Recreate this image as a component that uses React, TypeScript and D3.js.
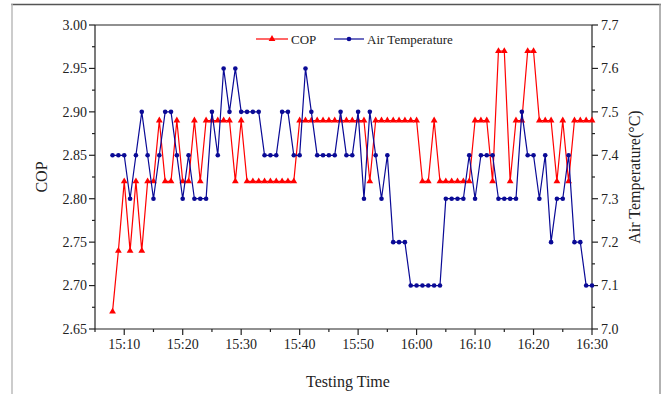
import React from "react";
import * as d3 from "d3";

const TIMES = [
  "15:08","15:09","15:10","15:11","15:12","15:13","15:14","15:15","15:16","15:17",
  "15:18","15:19","15:20","15:21","15:22","15:23","15:24","15:25","15:26","15:27",
  "15:28","15:29","15:30","15:31","15:32","15:33","15:34","15:35","15:36","15:37",
  "15:38","15:39","15:40","15:41","15:42","15:43","15:44","15:45","15:46","15:47",
  "15:48","15:49","15:50","15:51","15:52","15:53","15:54","15:55","15:56","15:57",
  "15:58","15:59","16:00","16:01","16:02","16:03","16:04","16:05","16:06","16:07",
  "16:08","16:09","16:10","16:11","16:12","16:13","16:14","16:15","16:16","16:17",
  "16:18","16:19","16:20","16:21","16:22","16:23","16:24","16:25","16:26","16:27",
  "16:28","16:29","16:30",
];

const COP = [
  2.67, 2.74, 2.82, 2.74, 2.82, 2.74, 2.82, 2.82, 2.89, 2.82,
  2.82, 2.89, 2.82, 2.82, 2.89, 2.82, 2.89, 2.89, 2.89, 2.89,
  2.89, 2.82, 2.89, 2.82, 2.82, 2.82, 2.82, 2.82, 2.82, 2.82,
  2.82, 2.82, 2.89, 2.89, 2.89, 2.89, 2.89, 2.89, 2.89, 2.89,
  2.89, 2.89, 2.89, 2.89, 2.82, 2.89, 2.89, 2.89, 2.89, 2.89,
  2.89, 2.89, 2.89, 2.82, 2.82, 2.89, 2.82, 2.82, 2.82, 2.82,
  2.82, 2.82, 2.89, 2.89, 2.89, 2.82, 2.97, 2.97, 2.82, 2.89,
  2.89, 2.97, 2.97, 2.89, 2.89, 2.89, 2.82, 2.89, 2.82, 2.89,
  2.89, 2.89, 2.89,
];

const AIR_TEMP = [
  7.4, 7.4, 7.4, 7.3, 7.4, 7.5, 7.4, 7.3, 7.4, 7.5,
  7.5, 7.4, 7.3, 7.4, 7.3, 7.3, 7.3, 7.5, 7.4, 7.6,
  7.5, 7.6, 7.5, 7.5, 7.5, 7.5, 7.4, 7.4, 7.4, 7.5,
  7.5, 7.4, 7.4, 7.6, 7.5, 7.4, 7.4, 7.4, 7.4, 7.5,
  7.4, 7.4, 7.5, 7.3, 7.5, 7.4, 7.3, 7.4, 7.2, 7.2,
  7.2, 7.1, 7.1, 7.1, 7.1, 7.1, 7.1, 7.3, 7.3, 7.3,
  7.3, 7.4, 7.3, 7.4, 7.4, 7.4, 7.3, 7.3, 7.3, 7.3,
  7.5, 7.4, 7.4, 7.3, 7.4, 7.2, 7.3, 7.3, 7.4, 7.2,
  7.2, 7.1, 7.1,
];

const X_TICKS = ["15:10","15:20","15:30","15:40","15:50","16:00","16:10","16:20","16:30"];
const X_MINOR = ["15:05","15:15","15:25","15:35","15:45","15:55","16:05","16:15","16:25"];
const X_DOMAIN = ["15:05", "16:30"];
const COP_TICKS = [2.65, 2.70, 2.75, 2.80, 2.85, 2.90, 2.95, 3.00];
const COP_MINOR = [2.675, 2.725, 2.775, 2.825, 2.875, 2.925, 2.975];
const TEMP_TICKS = [7.0, 7.1, 7.2, 7.3, 7.4, 7.5, 7.6, 7.7];
const TEMP_MINOR = [7.05, 7.15, 7.25, 7.35, 7.45, 7.55, 7.65];

const RED = "#ff0000";
const BLUE = "#0a0a96";
const FONT = "'Liberation Serif', 'Times New Roman', serif";

const toMin = (s: string) => {
  const [h, m] = s.split(":").map(Number);
  return h * 60 + m;
};

export default function App() {
  const W = 664, H = 394;
  const L = 95, R = 592, T = 25, B = 329;
  const x = d3.scaleLinear().domain(X_DOMAIN.map(toMin)).range([L, R]);
  const yL = d3.scaleLinear().domain([2.65, 3.0]).range([B, T]);
  const yR = d3.scaleLinear().domain([7.0, 7.7]).range([B, T]);

  const copPts: [number, number][] = TIMES.map((t, i) => [x(toMin(t)), yL(COP[i])]);
  const tmpPts: [number, number][] = TIMES.map((t, i) => [x(toMin(t)), yR(AIR_TEMP[i])]);
  const line = d3.line();
  const tri = d3.symbol(d3.symbolTriangle, 20)() as string;

  const legY = 39;
  return (
    <svg width={W} height={H} style={{ position: "absolute", left: 0, top: 0, background: "#fff" }}
      fontFamily={FONT}>
      <rect x={0} y={0} width={W} height={H} fill="#fff" />
      {/* outer frame */}
      <line x1={11} x2={661} y1={4.5} y2={4.5} stroke="#555" strokeWidth={1.5} />
      <line x1={12} x2={12} y1={4} y2={H} stroke="#bbb" strokeWidth={1.5} />
      <line x1={660} x2={660} y1={4} y2={H} stroke="#999" strokeWidth={1.5} />

      {/* plot frame */}
      <line x1={L} x2={R} y1={T} y2={T} stroke="#222" strokeWidth={1.2} />
      <line x1={L} x2={R} y1={B} y2={B} stroke="#222" strokeWidth={1.2} />
      <line x1={L} x2={L} y1={T} y2={B} stroke="#222" strokeWidth={1.2} />
      <line x1={R} x2={R} y1={T} y2={B} stroke="#222" strokeWidth={1.2} />

      {/* left axis */}
      {COP_TICKS.map((v) => (
        <g key={"cl" + v}>
          <line x1={L - 6} x2={L} y1={yL(v)} y2={yL(v)} stroke="#222" strokeWidth={1.2} />
          <text x={L - 8} y={yL(v)} dy="0.35em" textAnchor="end" fontSize={14} fill="#222">
            {v.toFixed(2)}
          </text>
        </g>
      ))}
      {COP_MINOR.map((v) => (
        <line key={"cm" + v} x1={L - 3} x2={L} y1={yL(v)} y2={yL(v)} stroke="#222" strokeWidth={1.2} />
      ))}
      {/* right axis */}
      {TEMP_TICKS.map((v) => (
        <g key={"tl" + v}>
          <line x1={R} x2={R + 6} y1={yR(v)} y2={yR(v)} stroke="#222" strokeWidth={1.2} />
          <text x={R + 9} y={yR(v)} dy="0.35em" textAnchor="start" fontSize={14} fill="#222">
            {v.toFixed(1)}
          </text>
        </g>
      ))}
      {TEMP_MINOR.map((v) => (
        <line key={"tm" + v} x1={R} x2={R + 3} y1={yR(v)} y2={yR(v)} stroke="#222" strokeWidth={1.2} />
      ))}
      {/* bottom axis */}
      {X_TICKS.map((t) => (
        <g key={"xl" + t}>
          <line x1={x(toMin(t))} x2={x(toMin(t))} y1={B} y2={B + 6} stroke="#222" strokeWidth={1.2} />
          <text x={x(toMin(t))} y={B + 20} textAnchor="middle" fontSize={14} fill="#222">{t}</text>
        </g>
      ))}
      {X_MINOR.map((t) => (
        <line key={"xm" + t} x1={x(toMin(t))} x2={x(toMin(t))} y1={B} y2={B + 3} stroke="#222" strokeWidth={1.2} />
      ))}

      {/* titles */}
      <text transform={`translate(41,${(T + B) / 2}) rotate(-90)`} textAnchor="middle" fontSize={16}
        dy="0.35em" fill="#222">COP</text>
      <text transform={`translate(634,${(T + B) / 2}) rotate(-90)`} textAnchor="middle" fontSize={16}
        dy="0.35em" fill="#222">Air Temperature(°C)</text>
      <text x={348} y={387} textAnchor="middle" fontSize={16} fill="#222">Testing Time</text>

      {/* series */}
      <path d={line(copPts) as string} fill="none" stroke={RED} strokeWidth={1.2} />
      {copPts.map((p, i) => (
        <path key={"ct" + i} d={tri} transform={`translate(${p[0]},${p[1]})`} fill={RED} />
      ))}
      <path d={line(tmpPts) as string} fill="none" stroke={BLUE} strokeWidth={1.2} />
      {tmpPts.map((p, i) => (
        <circle key={"tc" + i} cx={p[0]} cy={p[1]} r={2.3} fill={BLUE} />
      ))}

      {/* legend */}
      <line x1={256} x2={288} y1={legY} y2={legY} stroke={RED} strokeWidth={1.2} />
      <path d={tri} transform={`translate(272,${legY})`} fill={RED} />
      <text x={291} y={legY} dy="0.35em" fontSize={13} fill="#222">COP</text>
      <line x1={334} x2={364} y1={legY} y2={legY} stroke={BLUE} strokeWidth={1.2} />
      <circle cx={349} cy={legY} r={2.3} fill={BLUE} />
      <text x={367} y={legY} dy="0.35em" fontSize={13} fill="#222">Air Temperature</text>
    </svg>
  );
}
